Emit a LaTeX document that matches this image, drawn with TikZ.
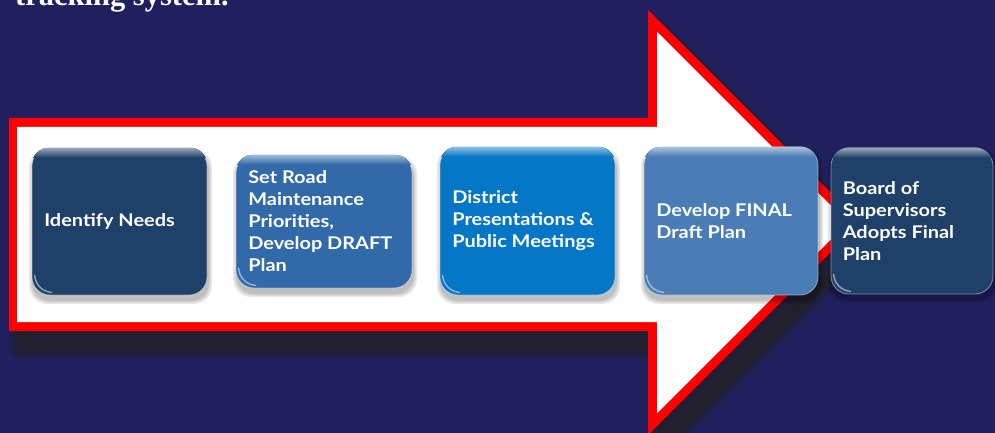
\documentclass[tikz,border=0pt]{standalone}
\usepackage{fontspec}
\newfontfamily\boxfont[FakeStretch=1.14]{Lato}
\newfontfamily\headfont{Liberation Serif}
\definecolor{navy}{HTML}{211F5E}
\definecolor{arrowred}{HTML}{FF0000}
\definecolor{shadowgray}{HTML}{242228}
\definecolor{boxdark}{HTML}{1F4169}
\definecolor{boxmid}{HTML}{3169A9}
\definecolor{boxbright}{HTML}{0676C6}
\definecolor{boxlight}{HTML}{4A7DB5}
\tikzset{
  stepbox/.style={rectangle, rounded corners=18pt, inner sep=0pt, draw=white, draw opacity=0.45, line width=0.8pt},
  steptext/.style={anchor=west, inner sep=0pt, text=white, align=left,
    font=\boxfont\bfseries\fontsize{17.5}{22}\selectfont},
  glint/.style={white, opacity=0.5, line width=1.4pt, line cap=round},
}
\begin{document}
\begin{tikzpicture}[x=1pt,y=-1pt]
\useasboundingbox (0,0) rectangle (995,433);
\clip (0,0) rectangle (995,433);
\fill[navy] (0,0) rectangle (995,433);

% last line of the heading, running off the top edge
\node[anchor=base west, inner sep=0pt, text=white,
  font=\headfont\bfseries\fontsize{30.5}{34}\selectfont] (title) at (15,6) {tracking system.};

% soft shadow under the big arrow
\begin{scope}[shift={(10,18)}]
  \foreach \w in {20,14,8,3}
    \filldraw[fill=shadowgray, draw=shadowgray, opacity=0.3, line width=\w pt, line join=round]
      (9,118) -- (648,118) -- (648,10) -- (860.5,222.5) -- (648,435) -- (648,331) -- (9,331) -- cycle;
\end{scope}

% big arrow: red rim and white body
\fill[arrowred] (9,118) -- (648,118) -- (648,10) -- (860.5,222.5) -- (648,435) -- (648,331) -- (9,331) -- cycle;
\fill[white] (17,127) -- (657,127) -- (657,31.7) -- (847.8,222.5) -- (657,413.3) -- (657,322) -- (17,322) -- cycle;

% process steps
\foreach \n/\cx/\cy/\w/\h/\c in {
    b1/119.5/221.5/175/147/boxdark,
    b2/324/221.5/176/133/boxmid,
    b3/527.5/221/175/148/boxbright,
    b4/731/221/174/148/boxlight,
    b5/912/221/162/146/boxdark} {
  % soft drop shadow
  \foreach \k in {8,5,2}
    \fill[black, opacity=0.09, rounded corners=18pt]
      (\cx-\w/2-\k/2+1, \cy-\h/2+5-\k/2) rectangle (\cx+\w/2+\k/2+1, \cy+\h/2+5+\k/2);
  \node[stepbox, fill=\c, minimum width=\w pt, minimum height=\h pt] (\n) at (\cx,\cy) {};
  % bevel highlight along the top edge
  \begin{scope}
    \clip[rounded corners=18pt] (\n.north west) rectangle (\n.south east);
    \fill[top color=white!55!\c, bottom color=\c] (\n.north west) rectangle ([yshift=-10pt]\n.north east);
  \end{scope}
  % reflection at the lower left corner
  \draw[glint] ([xshift=3pt,yshift=20pt]\n.south west) to[out=-85,in=175] ([xshift=20pt,yshift=3pt]\n.south west);
}

\node[steptext] (t1) at ([xshift=12.5pt]b1.west) {Identify Needs};
\node[steptext] (t2) at ([xshift=12.5pt]b2.west) {Set Road\\Maintenance\\Priorities,\\Develop DRAFT\\Plan};
\node[steptext] (t3) at ([xshift=12.5pt]b3.west) {District\\Presentations \&\\Public Meetings};
\node[steptext] (t4) at ([xshift=12.5pt]b4.west) {Develop FINAL\\Draft Plan};
\node[steptext] (t5) at ([xshift=12pt]b5.west) {Board of\\Supervisors\\Adopts Final\\Plan};
\end{tikzpicture}
\end{document}
